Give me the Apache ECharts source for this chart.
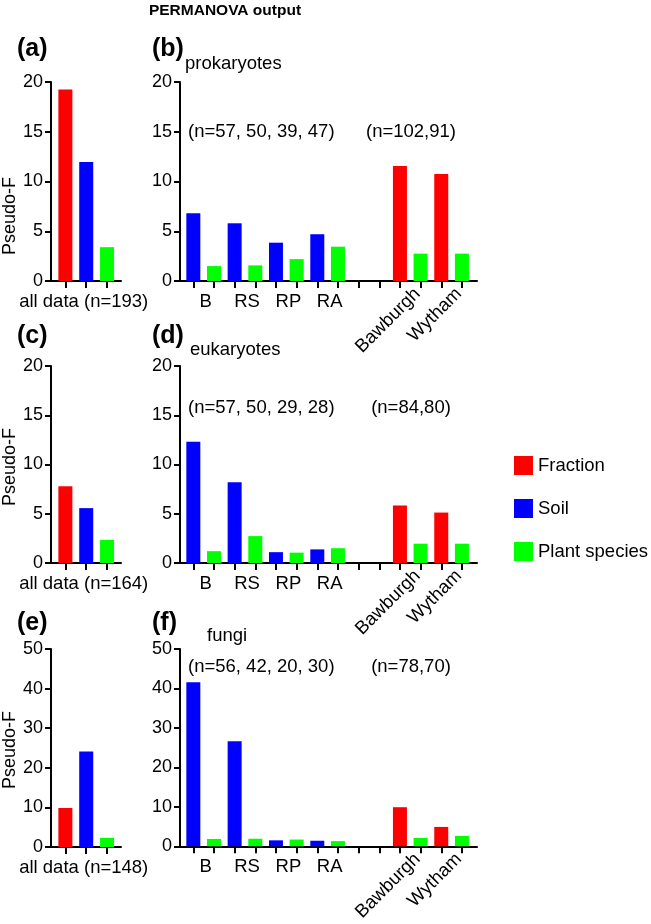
<!DOCTYPE html>
<html>
<head>
<meta charset="utf-8">
<script src="https://cdn.jsdelivr.net/npm/echarts@6.0.0/dist/echarts.min.js"></script>
<style>
html,body{margin:0;padding:0;background:#fff;}
#chart{width:651px;height:924px;}
</style>
</head>
<body>
<div id="chart"></div>
<script>
// ---------- data ----------
const seriesNames = ['Fraction', 'Soil', 'Plant species'];
const taxa = ['prokaryotes', 'eukaryotes', 'fungi'];
const panelLetters = ['(a)', '(b)', '(c)', '(d)', '(e)', '(f)'];
const groupLabels = ['B', 'RS', 'RP', 'RA'];
const siteLabels = ['Bawburgh', 'Wytham'];
const allDataLabels = ['all data (n=193)', 'all data (n=164)', 'all data (n=148)'];
const groupNLabels = ['(n=57, 50, 39, 47)', '(n=57, 50, 29, 28)', '(n=56, 42, 20, 30)'];
const siteNLabels = ['(n=102,91)', '(n=84,80)', '(n=78,70)'];
const yMax = [20, 20, 50];
const yInterval = [5, 5, 10];

// all data panels (a, c, e)
const allFraction = [19.25, 7.8, 9.85];
const allSoil = [11.95, 5.57, 24.1];
const allPlant = [3.4, 2.35, 2.3];

// prokaryotes (b)
const prokGroupSoil = [6.8, 5.8, 3.85, 4.7];
const prokGroupPlant = [1.5, 1.57, 2.2, 3.45];
const prokSiteFraction = [11.56, 10.75];
const prokSitePlant = [2.75, 2.75];

// eukaryotes (d)
const eukGroupSoil = [12.3, 8.2, 1.1, 1.38];
const eukGroupPlant = [1.2, 2.73, 1.05, 1.5];
const eukSiteFraction = [5.84, 5.12];
const eukSitePlant = [1.96, 1.96];

// fungi (f)
const fungGroupSoil = [41.6, 26.6, 1.5, 1.4];
const fungGroupPlant = [1.85, 1.9, 1.7, 1.3];
const fungSiteFraction = [9.9, 4.9];
const fungSitePlant = [2.1, 2.6];

const groupSoil = [prokGroupSoil, eukGroupSoil, fungGroupSoil];
const groupPlant = [prokGroupPlant, eukGroupPlant, fungGroupPlant];
const siteFraction = [prokSiteFraction, eukSiteFraction, fungSiteFraction];
const sitePlant = [prokSitePlant, eukSitePlant, fungSitePlant];

// ---------- layout / style ----------
const FONT = 'Liberation Sans, Arial, Helvetica, sans-serif';
const COLORS = {'Fraction': '#ff0000', 'Soil': '#0000ff', 'Plant species': '#00ff00'};
const rowTop = [82, 366, 649];
const rowH = [199, 197, 198];
const leftX = 51, leftW = 70, leftMin = -0.69, leftMax = 2.67;
const rightX = 180, rightW = 297, rightMin = -0.645, rightMax = 13.73;
const BARW = 14;
const nSlots = 14;   // 4 groups x 2 + 2 gap slots + 2 sites x 2
const siteStart = 10;

const grids = [], xAxes = [], yAxes = [], series = [], graphics = [];

function yAxisCfg(gi, r) {
  return {
    gridIndex: gi, type: 'value', min: 0, max: yMax[r], interval: yInterval[r],
    position: 'left',
    axisLine: {show: true, onZero: false, lineStyle: {color: '#000', width: 2}},
    axisTick: {show: true, length: 6, lineStyle: {color: '#000', width: 2}},
    axisLabel: {color: '#000', fontSize: 18, fontFamily: FONT, margin: 8},
    splitLine: {show: false}
  };
}
function barSeries(name, xi, yi, data) {
  return {
    type: 'bar', name: name, xAxisIndex: xi, yAxisIndex: yi, data: data,
    barWidth: BARW, barGap: '-100%',
    itemStyle: {color: COLORS[name]}, emphasis: {disabled: true}
  };
}

for (let r = 0; r < 3; r++) {
  // ----- left panel -----
  const gL = grids.length;
  grids.push({left: leftX, top: rowTop[r], width: leftW, height: rowH[r]});
  const xL = xAxes.length;
  const lblL = allDataLabels[r];
  xAxes.push({
    gridIndex: gL, type: 'value', position: 'bottom', offset: 0, min: leftMin, max: leftMax,
    axisLine: {show: true, onZero: false, lineStyle: {color: '#000', width: 2}},
    axisTick: {show: true, length: 7, customValues: [0, 1, 2], lineStyle: {color: '#000', width: 2}},
    axisLabel: {color: '#000', fontSize: 18.5, fontFamily: FONT, margin: 11, customValues: [0.88],
      formatter: () => lblL},
    splitLine: {show: false}
  });
  const yL = yAxes.length;
  yAxes.push(yAxisCfg(gL, r));
  series.push(barSeries('Fraction', xL, yL, [[0, allFraction[r]]]));
  series.push(barSeries('Soil', xL, yL, [[1, allSoil[r]]]));
  series.push(barSeries('Plant species', xL, yL, [[2, allPlant[r]]]));

  // ----- right panel -----
  const gR = grids.length;
  grids.push({left: rightX, top: rowTop[r], width: rightW, height: rowH[r]});
  const xR = xAxes.length;
  const ticks = [];
  for (let i = 0; i < nSlots; i++) ticks.push(i);
  const groupPos = groupLabels.map((_, i) => 2 * i + 0.6);
  xAxes.push({
    gridIndex: gR, type: 'value', position: 'bottom', offset: 0, min: rightMin, max: rightMax,
    axisLine: {show: true, onZero: false, lineStyle: {color: '#000', width: 2}},
    axisTick: {show: true, length: 7, customValues: ticks, lineStyle: {color: '#000', width: 2}},
    axisLabel: {color: '#000', fontSize: 18.5, fontFamily: FONT, margin: 11, customValues: groupPos,
      formatter: (v) => groupLabels[Math.round((v - 0.6) / 2)]},
    splitLine: {show: false}
  });
  const sitePos = siteLabels.map((_, i) => siteStart + 2 * i + 0.85);
  xAxes.push({
    gridIndex: gR, type: 'value', position: 'bottom', offset: 0, min: rightMin, max: rightMax,
    axisLine: {show: false, onZero: false}, axisTick: {show: false},
    axisLabel: {color: '#000', fontSize: 18.5, fontFamily: FONT, margin: 10, rotate: 45, customValues: sitePos,
      formatter: (v) => siteLabels[Math.round((v - siteStart - 0.85) / 2)]},
    splitLine: {show: false}
  });
  const yR = yAxes.length;
  yAxes.push(yAxisCfg(gR, r));
  series.push(barSeries('Fraction', xR, yR, siteFraction[r].map((v, i) => [siteStart + 2 * i, v])));
  series.push(barSeries('Soil', xR, yR, groupSoil[r].map((v, i) => [2 * i, v])));
  series.push(barSeries('Plant species', xR, yR,
    groupPlant[r].map((v, i) => [2 * i + 1, v]).concat(sitePlant[r].map((v, i) => [siteStart + 2 * i + 1, v]))));

  // ----- texts -----
  const letterY = [49, 336, 623][r];
  graphics.push({type: 'text', x: 17, y: letterY,
    style: {text: panelLetters[2 * r], font: 'bold 25px ' + FONT, fill: '#000', textVerticalAlign: 'middle'}});
  graphics.push({type: 'text', x: 152, y: letterY,
    style: {text: panelLetters[2 * r + 1], font: 'bold 25px ' + FONT, fill: '#000', textVerticalAlign: 'middle'}});
  const taxX = [185, 190, 207][r];
  const taxY = [64, 350, 636][r];
  graphics.push({type: 'text', x: taxX, y: taxY,
    style: {text: taxa[r], font: '18.5px ' + FONT, fill: '#000', textVerticalAlign: 'middle'}});
  const nY = [132, 408, 667][r];
  graphics.push({type: 'text', x: 188, y: nY,
    style: {text: groupNLabels[r], font: '18.5px ' + FONT, fill: '#000', textVerticalAlign: 'middle'}});
  graphics.push({type: 'text', x: 411, y: nY,
    style: {text: siteNLabels[r], font: '18.5px ' + FONT, fill: '#000', textAlign: 'center', textVerticalAlign: 'middle'}});
  const pfY = [216, 467, 750][r];
  graphics.push({type: 'text', x: 10, y: pfY, rotation: Math.PI / 2,
    style: {text: 'Pseudo-F', font: '18px ' + FONT, fill: '#000', textAlign: 'center', textVerticalAlign: 'middle'}});
}

graphics.push({type: 'text', x: 225, y: 11,
  style: {text: 'PERMANOVA output', font: 'bold 15.5px ' + FONT, fill: '#000', textAlign: 'center', textVerticalAlign: 'middle'}});

const option = {
  animation: false,
  backgroundColor: '#fff',
  textStyle: {fontFamily: FONT},
  legend: {
    data: seriesNames, orient: 'vertical', left: 509, top: 451,
    itemWidth: 19, itemHeight: 19, itemGap: 24, icon: 'rect',
    textStyle: {fontSize: 18.5, color: '#000', fontFamily: FONT},
    selectedMode: false
  },
  grid: grids, xAxis: xAxes, yAxis: yAxes, series: series, graphic: graphics
};
const chart = echarts.init(document.getElementById('chart'), null, {renderer: 'canvas'});
chart.setOption(option);
</script>
</body>
</html>
